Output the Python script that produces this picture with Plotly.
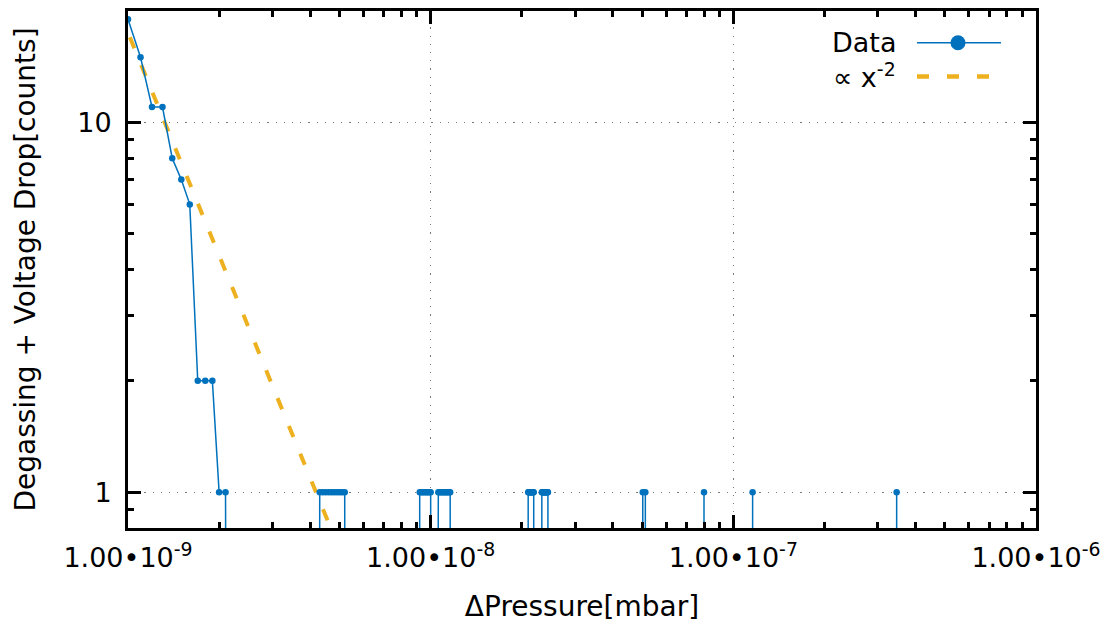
import math
import plotly.graph_objects as go

# Histogram of pressure jumps (bin width 1e-10 mbar); empty bins next to
# occupied ones are listed so the trace falls back to the frame edge.
pressure = [
    1.0e-9, 1.1e-9, 1.2e-9, 1.3e-9, 1.4e-9, 1.5e-9, 1.6e-9, 1.7e-9, 1.8e-9,
    1.9e-9, 2.0e-9, 2.1e-9, 2.2e-9,
    4.2e-9, 4.3e-9, 4.4e-9, 4.5e-9, 4.6e-9, 4.7e-9, 4.8e-9, 4.9e-9, 5.0e-9,
    5.1e-9, 5.2e-9, 5.3e-9,
    9.1e-9, 9.2e-9, 9.3e-9, 9.4e-9, 9.5e-9, 9.6e-9, 9.7e-9, 9.8e-9, 9.9e-9,
    10.0e-9, 10.1e-9,
    10.5e-9, 10.6e-9, 10.7e-9, 10.8e-9, 10.9e-9, 11.0e-9, 11.1e-9, 11.2e-9,
    11.3e-9, 11.4e-9, 11.5e-9, 11.6e-9, 11.7e-9,
    20.9e-9, 21.0e-9, 21.1e-9, 21.2e-9, 21.3e-9, 21.4e-9, 21.5e-9, 21.6e-9,
    21.7e-9, 21.8e-9, 21.9e-9, 22.0e-9,
    23.2e-9, 23.3e-9, 23.4e-9, 23.5e-9, 23.6e-9, 23.7e-9, 23.8e-9, 23.9e-9,
    24.0e-9, 24.1e-9, 24.2e-9, 24.3e-9, 24.4e-9, 24.5e-9,
    50.1e-9, 50.2e-9, 50.3e-9, 51.1e-9, 51.2e-9, 51.3e-9,
    79.9e-9, 80.0e-9, 80.1e-9,
    115.7e-9, 115.8e-9, 115.9e-9,
    346.3e-9, 346.4e-9, 346.5e-9,
]
counts = [
    19, 15, 11, 11, 8, 7, 6, 2, 2,
    2, 1, 1, 0,
    0, 1, 1, 1, 1, 1, 1, 1, 1,
    1, 1, 0,
    0, 1, 1, 1, 1, 1, 1, 1, 1,
    1, 0,
    0, 1, 1, 1, 1, 1, 1, 1,
    1, 1, 1, 1, 0,
    0, 1, 1, 1, 1, 1, 1, 1,
    1, 1, 1, 0,
    0, 1, 1, 1, 1, 1, 1, 1,
    1, 1, 1, 1, 1, 0,
    0, 1, 0, 0, 1, 0,
    0, 1, 0,
    0, 1, 0,
    0, 1, 0,
]

# Power-law guide  N = FIT_AMPLITUDE * dp^-2
FIT_AMPLITUDE = 1.747e-17
fit_range = [0.93e-9, 5.0e-9]

x_tick_vals = [1e-9, 1e-8, 1e-7, 1e-6]
x_tick_text = ["1.00\u202210<sup>-9</sup>", "1.00\u202210<sup>-8</sup>",
               "1.00\u202210<sup>-7</sup>", "1.00\u202210<sup>-6</sup>"]
y_tick_vals = [1, 10]
y_tick_text = ["1", "10"]

BLUE = "#0072BD"
ORANGE = "#EDB120"
FONT = "DejaVu Sans, Verdana, sans-serif"

# empty bins are placed far below the axis floor (log axis cannot show 0)
EMPTY_LEVEL = 1e-6
counts_plot = [c if c > 0 else EMPTY_LEVEL for c in counts]

fit_y = [FIT_AMPLITUDE / x ** 2 for x in fit_range]

fig = go.Figure()
fig.add_trace(go.Scatter(
    x=fit_range, y=fit_y, mode="lines",
    line=dict(color=ORANGE, width=4, dash="12px,18px"),
    showlegend=False, hoverinfo="skip",
))
fig.add_trace(go.Scatter(
    x=pressure, y=counts_plot, mode="lines+markers",
    line=dict(color=BLUE, width=1.5),
    marker=dict(color=BLUE, size=6.5),
    showlegend=False,
))

minor_x = [m * 10.0 ** e for e in (-9, -8, -7) for m in range(2, 10)]
minor_y = [0.9] + [m for m in range(2, 10)]

axis_common = dict(
    type="log",
    ticks="inside", ticklen=13, tickwidth=2.5, tickcolor="black",
    showline=True, linewidth=3, linecolor="black", mirror="allticks",
    showgrid=True, gridcolor="#7a7a7a", gridwidth=1.2, griddash="1.2px,7px",
    zeroline=False,
    tickfont=dict(family=FONT, size=27, color="black"),
)

fig.update_layout(
    width=1113, height=637,
    margin=dict(l=128, r=77, t=8, b=109, pad=0),
    paper_bgcolor="white", plot_bgcolor="white",
    font=dict(family=FONT, color="black"),
    xaxis=dict(
        axis_common,
        range=[-9, -6],
        tickvals=x_tick_vals, ticktext=x_tick_text,
        ticklabelstandoff=4,
        minor=dict(tickvals=minor_x, ticks="inside", ticklen=6,
                   tickwidth=2.5, tickcolor="black", showgrid=False),
        title=dict(text="\u0394Pressure[mbar]",
                   font=dict(family=FONT, size=28), standoff=24),
    ),
    yaxis=dict(
        axis_common,
        range=[math.log10(0.8), math.log10(20)],
        tickvals=y_tick_vals, ticktext=y_tick_text,
        ticklabelstandoff=8,
        minor=dict(tickvals=minor_y, ticks="inside", ticklen=6,
                   tickwidth=2.5, tickcolor="black", showgrid=False),
        title=dict(text="Degassing + Voltage Drop[counts]",
                   font=dict(family=FONT, size=28), standoff=34),
    ),
)

# Key in the top-right corner: label on the left, sample on the right
def px_x(px):
    return (px - 128) / 908.0


def px_y(py):
    return (528 - py) / 520.0


fig.add_annotation(x=px_x(898), y=px_y(40), xref="paper", yref="paper",
                   text="Data", showarrow=False, xanchor="right",
                   yanchor="middle", font=dict(family=FONT, size=27))
fig.add_annotation(x=px_x(898), y=px_y(73), xref="paper", yref="paper",
                   text="\u221d x<sup>-2</sup>", showarrow=False,
                   xanchor="right", yanchor="middle",
                   font=dict(family=FONT, size=27))
fig.add_shape(type="line", xref="paper", yref="paper",
              x0=px_x(917), x1=px_x(1001), y0=px_y(40), y1=px_y(40),
              line=dict(color=BLUE, width=1.5))
fig.add_shape(type="circle", xref="paper", yref="paper",
              xsizemode="pixel", ysizemode="pixel",
              xanchor=px_x(958), yanchor=px_y(40),
              x0=-7.5, x1=7.5, y0=-7.5, y1=7.5,
              fillcolor=BLUE, line=dict(color=BLUE, width=0))
fig.add_shape(type="line", xref="paper", yref="paper",
              x0=px_x(917), x1=px_x(1001), y0=px_y(74), y1=px_y(74),
              line=dict(color=ORANGE, width=4.5, dash="12px,18px"))

fig.write_html("out.html")
